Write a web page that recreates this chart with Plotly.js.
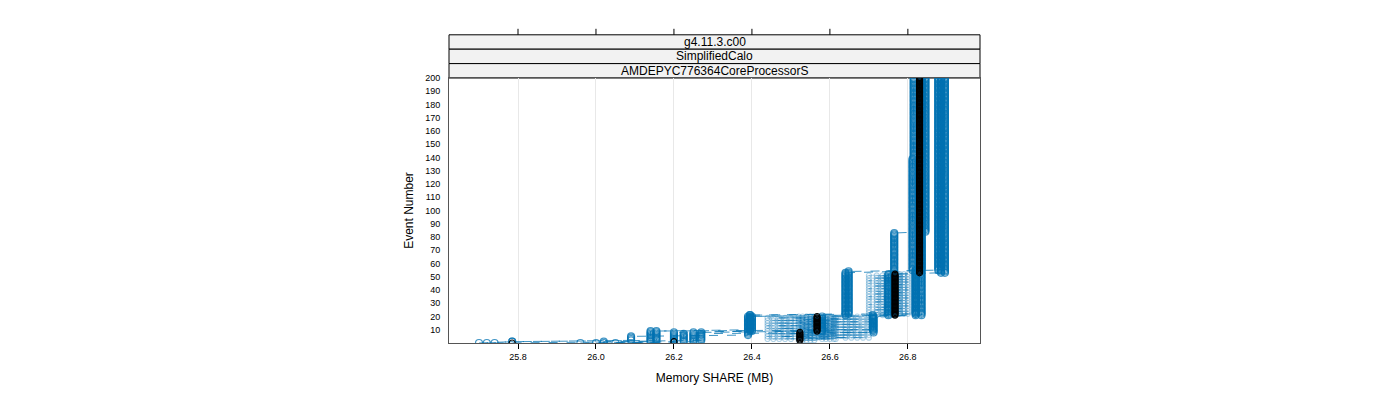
<!DOCTYPE html>
<html>
<head>
<meta charset="utf-8">
<script src="https://cdn.plot.ly/plotly-3.0.1.min.js"></script>
<style>
  body { margin: 0; background: #fff; }
  #graph { width: 1400px; height: 400px; }
</style>
</head>
<body>
<div id="graph"></div>
<script>
// 軸の目盛り
const xTicks = [25.8, 26.0, 26.2, 26.4, 26.6, 26.8];
const yTicks = [10, 20, 30, 40, 50, 60, 70, 80, 90, 100, 110, 120, 130, 140, 150, 160, 170, 180, 190, 200];
const stripLabels = ["g4.11.3.c00", "SimplifiedCalo", "AMDEPYC776364CoreProcessorS"];

// 段階的に変わる系列: メモリ値と、その値が続く最後のイベント番号（イベントは0から）
const blackMem = [25.785, 26.20, 26.523, 26.567, 26.767, 26.83];
const blackEnd = [0, 1, 8, 20, 52, 200];

const stepMem1 = [25.70, 25.785, 26.09, 26.39, 26.64, 26.765, 26.845];
const stepEnd1 = [0, 1, 5, 20, 53, 83, 200];
const stepMem2 = [25.72, 25.785, 26.155, 26.395, 26.648, 26.878];
const stepEnd2 = [0, 1, 9, 21, 54, 200];
const stepMem3 = [25.74, 26.14, 26.71, 26.82, 26.812, 26.815];
const stepEnd3 = [0, 9, 21, 54, 139, 200];
const stepMem4 = [25.96, 26.20, 26.395, 26.765, 26.885];
const stepEnd4 = [0, 8, 21, 52, 200];
const stepMem5 = [26.00, 26.225, 26.712, 26.835];
const stepEnd5 = [0, 7, 20, 200];
const stepMem6 = [26.05, 26.25, 26.40, 26.82, 26.835];
const stepEnd6 = [0, 8, 20, 55, 200];
const stepMem7 = [26.02, 26.27, 26.58, 26.75, 26.895];
const stepEnd7 = [1, 8, 20, 52, 200];

// 交互に値が変わる区間: 低い値, 高い値, 開始イベント, 終了イベント
const altLo = [26.44, 26.455, 26.47, 26.485, 26.50, 26.52, 26.53, 26.54, 26.55, 26.56, 26.70, 26.72, 26.735, 26.745, 26.755];
const altHi = [26.70, 26.685, 26.67, 26.655, 26.64, 26.60, 26.615, 26.61, 26.59, 26.58, 26.80, 26.79, 26.775, 26.77, 26.78];
const altFrom = [3, 3, 3, 3, 3, 2, 2, 2, 2, 2, 21, 21, 21, 21, 21];
const altTo = [20, 20, 20, 20, 20, 20, 20, 20, 20, 20, 52, 52, 52, 52, 52];

const BLUE = "rgba(0,114,178,0.75)";
const BLUE_LIGHT = "rgba(0,114,178,0.3)";

// ステップ系列をイベントごとの点に展開
function stepSeries(mem, end) {
  const x = [], y = [];
  let k = 0;
  for (let e = 0; e <= end[end.length - 1]; e++) {
    while (e > end[k]) k++;
    if (e < end[0] && k === 0 && end[0] > 0 && e === 0) { /* 先頭から */ }
    x.push(mem[k]);
    y.push(e);
  }
  return { x, y };
}

function altSeries(lo, hi, from, to) {
  const x = [], y = [];
  for (let e = from; e <= to; e++) {
    x.push((e - from) % 2 === 0 ? lo : hi);
    y.push(e);
  }
  return { x, y };
}

function makeTrace(d, color, size, mode) {
  return {
    x: d.x, y: d.y,
    type: "scatter", mode: mode || "lines+markers",
    line: { color: color, width: 1, dash: "dash" },
    marker: { symbol: "circle-open", size: size, color: color, line: { width: 1.2, color: color } },
    hoverinfo: "skip", showlegend: false,
  };
}

const data = [];
for (let i = 0; i < altLo.length; i++) {
  data.push(makeTrace(altSeries(altLo[i], altHi[i], altFrom[i], altTo[i]), BLUE_LIGHT, 5));
}
[[stepMem1, stepEnd1], [stepMem2, stepEnd2], [stepMem3, stepEnd3], [stepMem4, stepEnd4],
 [stepMem5, stepEnd5], [stepMem6, stepEnd6], [stepMem7, stepEnd7]].forEach(([m, e]) => {
  data.push(makeTrace(stepSeries(m, e), BLUE, 7));
});
// 黒は点のみ
data.push(makeTrace(stepSeries(blackMem, blackEnd), "#000000", 6, "markers"));

// 帯（ストリップ）
const shapes = [];
const annotations = [];
const stripH = 14.4 / 265;
stripLabels.forEach((txt, i) => {
  const y0 = 1 + (stripLabels.length - 1 - i) * stripH;
  shapes.push({
    type: "rect", xref: "paper", yref: "paper", x0: 0, x1: 1, y0: y0, y1: y0 + stripH,
    fillcolor: "#f2f2f2", line: { color: "#000", width: 1 }, layer: "below",
  });
  annotations.push({
    xref: "paper", yref: "paper", x: 0.5, y: y0 + stripH / 2, text: txt, showarrow: false,
    font: { size: 12, color: "#000", family: "Liberation Sans, Arial, sans-serif" },
    xanchor: "center", yanchor: "middle",
  });
});
// 上側の目盛り
const topY = 1 + stripLabels.length * stripH;
xTicks.forEach(v => {
  shapes.push({
    type: "line", xref: "x", yref: "paper", x0: v, x1: v, y0: topY, y1: topY + 6 / 265,
    line: { color: "#000", width: 1 },
  });
});

const layout = {
  width: 1400, height: 400,
  margin: { l: 449, r: 420, t: 78, b: 57 },
  paper_bgcolor: "#fff", plot_bgcolor: "#fff",
  font: { family: "Liberation Sans, Arial, sans-serif", color: "#000" },
  xaxis: {
    range: [25.623, 26.985],
    tickvals: xTicks, ticktext: xTicks.map(v => v.toFixed(1)),
    ticks: "outside", ticklen: 5, tickcolor: "#000",
    tickfont: { size: 9 },
    showgrid: true, gridcolor: "#e8e8e8", gridwidth: 1,
    zeroline: false, showline: true, mirror: true, linecolor: "#555", linewidth: 1,
    title: { text: "Memory SHARE (MB)", font: { size: 12 }, standoff: 12 },
  },
  yaxis: {
    range: [0, 200],
    tickvals: yTicks, ticktext: yTicks.map(String),
    ticks: "", ticklabelstandoff: 6,
    tickfont: { size: 9 },
    showgrid: false, zeroline: false, showline: true, mirror: true, linecolor: "#555", linewidth: 1,
    title: { text: "Event Number", font: { size: 12 }, standoff: 8 },
  },
  shapes: shapes,
  annotations: annotations,
};

Plotly.newPlot("graph", data, layout, { displayModeBar: false, staticPlot: true });
</script>
</body>
</html>
